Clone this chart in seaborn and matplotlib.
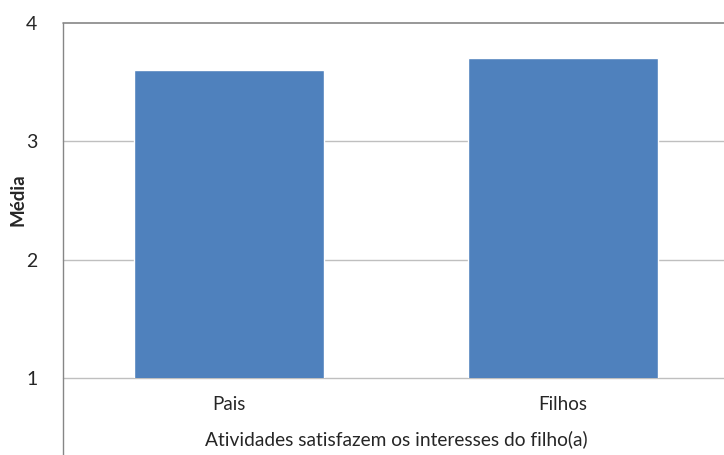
import matplotlib
matplotlib.use("Agg")
import matplotlib.pyplot as plt
import seaborn as sns
import pandas as pd
from matplotlib.lines import Line2D

# data
grupos = ["Pais", "Filhos"]
medias = [3.60, 3.70]
y_ticks = [1, 2, 3, 4]

df = pd.DataFrame({"Grupo": grupos, "Media": medias})

sns.set_style("white")
plt.rcParams["font.family"] = ["Lato", "DejaVu Sans"]

fig = plt.figure(figsize=(7.24, 4.55), dpi=100)
ax = fig.add_axes([62.5 / 724, 1 - 378.3 / 455, 667 / 724, (378.3 - 22.7) / 455])

sns.barplot(data=df, x="Grupo", y="Media", color="#4F81BD", saturation=1,
            width=0.571, ax=ax, zorder=3)

ax.set_ylim(1, 4)
ax.set_xlim(-0.5, 1.5)
ax.set_yticks(y_ticks)
ax.set_yticklabels([str(t) for t in y_ticks], fontsize=14)
ax.tick_params(axis="y", length=0, pad=18)
ax.tick_params(axis="x", length=0, pad=13, labelsize=13.5)

# gridlines
for t in y_ticks[:-1]:
    ax.axhline(t, color="#BFBFBF", lw=1, zorder=1, clip_on=False)
ax.axhline(4, color="#868686", lw=1.2, zorder=1, clip_on=False)

for side in ["top", "right", "bottom", "left"]:
    ax.spines[side].set_visible(False)

# vertical axis line running down to the bottom of the chart
fig.add_artist(Line2D([62.5 / 724, 62.5 / 724], [0, 1 - 22.7 / 455],
                      color="#868686", lw=1))

ax.set_ylabel("")
fig.text(18 / 724, 1 - 200 / 455, "Média", rotation=90, ha="center", va="center",
         fontsize=13.5, fontweight="bold")
ax.set_xlabel("Atividades satisfazem os interesses do filho(a)", fontsize=13.8, labelpad=12)

fig.savefig("out.png", dpi=100)
